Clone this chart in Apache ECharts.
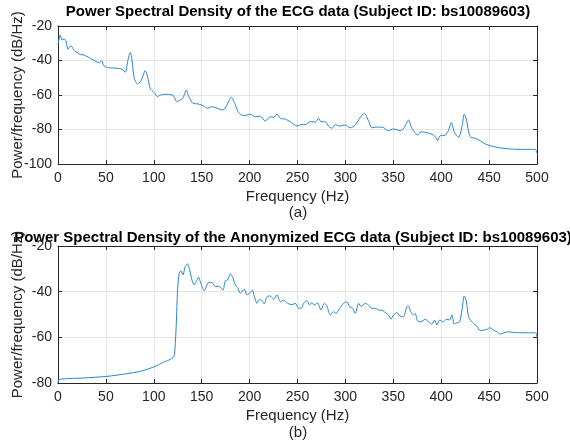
<!DOCTYPE html>
<html>
<head>
<meta charset="utf-8">
<script src="https://cdn.jsdelivr.net/npm/echarts@6/dist/echarts.min.js"></script>
<style>html,body{margin:0;padding:0;background:#fff;}#c{width:570px;height:445px;}</style>
</head>
<body>
<div id="c"></div>
<script>
// ---- data ----
const titleA = 'Power Spectral Density of the ECG data (Subject ID: bs10089603)';
const titleB = 'Power Spectral Density of the Anonymized ECG data (Subject ID: bs10089603)';
const xName = 'Frequency (Hz)';
const yName = 'Power/frequency (dB/Hz)';
const captionA = '(a)';
const captionB = '(b)';
const xTicks = [0, 50, 100, 150, 200, 250, 300, 350, 400, 450, 500];
const yTicksA = [-100, -80, -60, -40, -20];
const yTicksB = [-80, -60, -40, -20];

const freqA = [0, 2.4, 4.2, 6.5, 8.3, 10.4, 12.8, 14.5, 17, 23.3, 26.8, 33.7, 40.7, 43.5, 45.2, 48.3, 52.8, 61.6, 66.8, 70.3,
  73, 75.5, 77.2, 79.6, 83, 86.5, 91.1, 93.5, 96.3, 100.5, 104, 106.8, 113.7, 120, 124.2, 127.6, 130.4, 133.9, 136.3, 140.9,
  146.7, 152, 156.2, 160.7, 165.9, 172.2, 176.4, 180.9, 184.4, 188.5, 193.7, 200.7, 206, 211.2, 216.4, 221.6, 225.1, 228.6, 232, 237.3,
  242.4, 249.4, 254.6, 258, 263.4, 268.6, 272, 274.6, 279, 282.5, 286, 289.5, 293, 299.9, 305.1, 310.3, 314.8, 319.7, 324.2, 327.7,
  332.9, 339.8, 344, 350.3, 357.3, 360.8, 366, 369.4, 375.4, 378.9, 385.2, 390.5, 393.9, 396.3, 398.4, 404.3, 407.8, 410.5, 414, 418.2,
  421.7, 424, 426.1, 428.6, 431, 435.6, 440.8, 446, 451.2, 454.7, 459.9, 465.1, 472.1, 482.5, 492.9, 498.1, 500];
const psdA = [-31, -25.2, -28.1, -27.5, -28.7, -33.5, -31.6, -32, -34.3, -36.4, -36.8, -38.7, -40.9, -41.3, -40.1, -43.2, -44.2, -44.5, -45.1, -46.8,
  -39.7, -35.3, -39.7, -50.3, -53.6, -51.9, -45.9, -49.4, -56.1, -58.6, -61, -60, -59.6, -60.2, -63.9, -62.9, -61.9, -57.1, -60.6, -64.8,
  -65.2, -66.4, -67.7, -66.8, -67.6, -68.7, -65.8, -61.3, -64.8, -70.2, -72, -71.2, -72.6, -72.3, -75.1, -72.6, -73, -71, -73.5, -74,
  -75.5, -78, -77, -77.2, -75.5, -75.7, -73.5, -75.5, -75.5, -78, -79.3, -77, -78, -77.4, -79, -77.4, -73.5, -70.6, -75.1, -79,
  -78.6, -78.8, -80.7, -79.7, -80.7, -79.3, -74.5, -79.3, -83.2, -81.3, -81.9, -82.8, -84.2, -86.5, -83.8, -83.2, -80.3, -76, -81.9, -84.5,
  -78.4, -71.2, -73.5, -81.3, -84.5, -85.1, -86.5, -88.4, -89.4, -89.9, -90.5, -90.9, -91.3, -91.5, -91.5, -91.5, -93.8];

const freqB = [0, 1, 26.7, 51.1, 72, 85.9, 99.8, 110.2, 120.7, 122.4,
  123.5, 124.8, 126.6, 128.3, 130.4, 132.8, 135.3, 137.4, 139.8, 142.2,
  144.3, 146.7, 149.1, 152.7, 157.2, 160.7, 164.2, 167.7, 172.2, 174.6,
  177, 179.8, 182.3, 185, 187.4, 190.3, 192, 194.5, 197.3, 200,
  203, 204.8, 207.7, 210.1, 212.9, 215.3, 218.1, 221.6, 225.1, 228.6,
  232, 235.5, 239.7, 244.2, 247.7, 251.1, 254.6, 256.4, 259.9, 262.6,
  265, 267.5, 271, 274.5, 278, 280.7, 284.2, 287.7, 290.5, 293.9,
  298.1, 301.6, 304.4, 307.5, 310.3, 313.8, 316.6, 320.5, 324, 327.6,
  331.1, 334.5, 339.1, 342.5, 345, 347.5, 350.2, 353.7, 357.2, 360.6,
  364.1, 365.8, 368.2, 371, 372.8, 375.3, 378.8, 383.3, 386.8, 390.3,
  393.1, 395.6, 398.4, 401.9, 405.3, 408.8, 411.2, 413.6, 416.4, 419.2,
  421.7, 424, 426.1, 428.6, 431, 433.8, 437.3, 440.8, 444.3, 447.7,
  450.5, 454, 458.1, 461.7, 465.2, 470.4, 477.4, 486.1, 496.5, 499.3,
  500];
const psdB = [-80.5, -78.5, -77.8, -77.1, -75.9, -74.9, -73, -70.9, -68.6, -62.7,
  -53.9, -39.3, -31.9, -30.8, -32.7, -29, -27.8, -30.5, -34.9, -37.1,
  -35.6, -33.7, -36.3, -39.6, -36, -36, -37.8, -37.6, -39.3, -35.2,
  -34.9, -32.2, -33.6, -37.1, -38.1, -40.7, -40, -38.9, -41.4, -40.7,
  -39.3, -41.9, -45.1, -43.6, -43.8, -45.4, -42.2, -41.9, -43.3, -41.4,
  -44.4, -43.7, -45.1, -45.7, -45.1, -47.3, -47, -45.1, -44, -45.8,
  -44.8, -45.8, -45, -48, -45.1, -46.3, -50.2, -48.8, -49.5, -47.3,
  -45.1, -44.4, -46.6, -47.3, -49.5, -45.1, -46.6, -45.1, -45.8, -47.3,
  -47.3, -48, -48.3, -49.5, -50.2, -52.1, -50.2, -49.2, -50.7, -51,
  -46.6, -46.3, -48.8, -50.2, -49.5, -52.7, -53.2, -52.1, -53.2, -54.2,
  -52.4, -54.6, -52.4, -53.2, -52.1, -52.4, -50.2, -54.2, -53.6, -53.2,
  -48, -41.9, -44, -51, -52.7, -53.9, -55.1, -57.1, -56.8, -56.6,
  -55.8, -56.6, -57.6, -58.6, -58, -57.6, -57.9, -58, -58, -58.3,
  -60.5];

// ---- chart ----
const FONT = "'Liberation Sans', Arial, Helvetica, sans-serif";
const AX = '#262626';
const GRIDC = '#e4e4e4';
const LINEC = '#2a84cc';

function pairs(xs, ys) {
  const n = Math.min(xs.length, ys.length);
  const out = [];
  for (let i = 0; i < n; i++) out.push([xs[i], ys[i]]);
  return out;
}

function mainX(gi) {
  return {
    type: 'value', gridIndex: gi, position: 'bottom',
    min: xTicks[0], max: xTicks[xTicks.length - 1], interval: xTicks[1] - xTicks[0],
    name: xName, nameLocation: 'middle', nameGap: 25, nameMoveOverlap: false,
    nameTextStyle: { fontFamily: FONT, fontSize: 15, color: AX },
    axisLine: { show: true, onZero: false, lineStyle: { color: AX, width: 1 } },
    axisTick: { show: true, inside: true, length: 4, lineStyle: { color: AX } },
    axisLabel: { show: true, margin: 7, fontFamily: FONT, fontSize: 14, color: AX },
    splitLine: { show: true, lineStyle: { color: GRIDC, width: 1 } }
  };
}
function mirrorX(gi) {
  return {
    type: 'value', gridIndex: gi, position: 'top',
    min: xTicks[0], max: xTicks[xTicks.length - 1], interval: xTicks[1] - xTicks[0],
    axisLine: { show: true, onZero: false, lineStyle: { color: AX, width: 1 } },
    axisTick: { show: true, inside: true, length: 4, lineStyle: { color: AX } },
    axisLabel: { show: false }, splitLine: { show: false }
  };
}
function mainY(gi, ticks) {
  return {
    type: 'value', gridIndex: gi, position: 'left',
    min: ticks[0], max: ticks[ticks.length - 1], interval: ticks[1] - ticks[0],
    name: yName, nameLocation: 'middle', nameGap: 33, nameRotate: 90, nameMoveOverlap: false,
    nameTextStyle: { fontFamily: FONT, fontSize: 15, color: AX },
    axisLine: { show: true, onZero: false, lineStyle: { color: AX, width: 1 } },
    axisTick: { show: true, inside: true, length: 4, lineStyle: { color: AX } },
    axisLabel: { show: true, margin: 6, fontFamily: FONT, fontSize: 14, color: AX },
    splitLine: { show: true, lineStyle: { color: GRIDC, width: 1 } }
  };
}
function mirrorY(gi, ticks) {
  return {
    type: 'value', gridIndex: gi, position: 'right',
    min: ticks[0], max: ticks[ticks.length - 1], interval: ticks[1] - ticks[0],
    axisLine: { show: true, onZero: false, lineStyle: { color: AX, width: 1 } },
    axisTick: { show: true, inside: true, length: 4, lineStyle: { color: AX } },
    axisLabel: { show: false }, splitLine: { show: false }
  };
}
function txt(text, x, y, size, bold) {
  return {
    type: 'text', x: x, y: y, silent: true,
    style: { text: text, align: 'center', verticalAlign: 'middle', fill: bold ? '#000' : AX,
      fontFamily: FONT, fontSize: size, fontWeight: bold ? 'bold' : 'normal' }
  };
}

const chart = echarts.init(document.getElementById('c'), null, { renderer: 'canvas' });
chart.setOption({
  animation: false,
  backgroundColor: '#ffffff',
  grid: [
    { left: 58, top: 26, width: 479, height: 138, containLabel: false, outerBoundsMode: 'none' },
    { left: 58, top: 246, width: 479, height: 137, containLabel: false, outerBoundsMode: 'none' }
  ],
  xAxis: [mainX(0), mirrorX(0), mainX(1), mirrorX(1)],
  yAxis: [mainY(0, yTicksA), mirrorY(0, yTicksA), mainY(1, yTicksB), mirrorY(1, yTicksB)],
  series: [
    { type: 'line', xAxisIndex: 0, yAxisIndex: 0, data: pairs(freqA, psdA), showSymbol: false,
      lineStyle: { color: LINEC, width: 1 }, smooth: 0.25, clip: true },
    { type: 'line', xAxisIndex: 2, yAxisIndex: 2, data: pairs(freqB, psdB), showSymbol: false,
      lineStyle: { color: LINEC, width: 1 }, smooth: 0.25, clip: true }
  ],
  graphic: [
    txt(titleA, 298, 12, 15, true),
    txt(captionA, 298, 213, 15, false),
    txt(titleB, 293, 238, 15, true),
    txt(captionB, 298, 433, 15, false)
  ]
});
</script>
</body>
</html>
